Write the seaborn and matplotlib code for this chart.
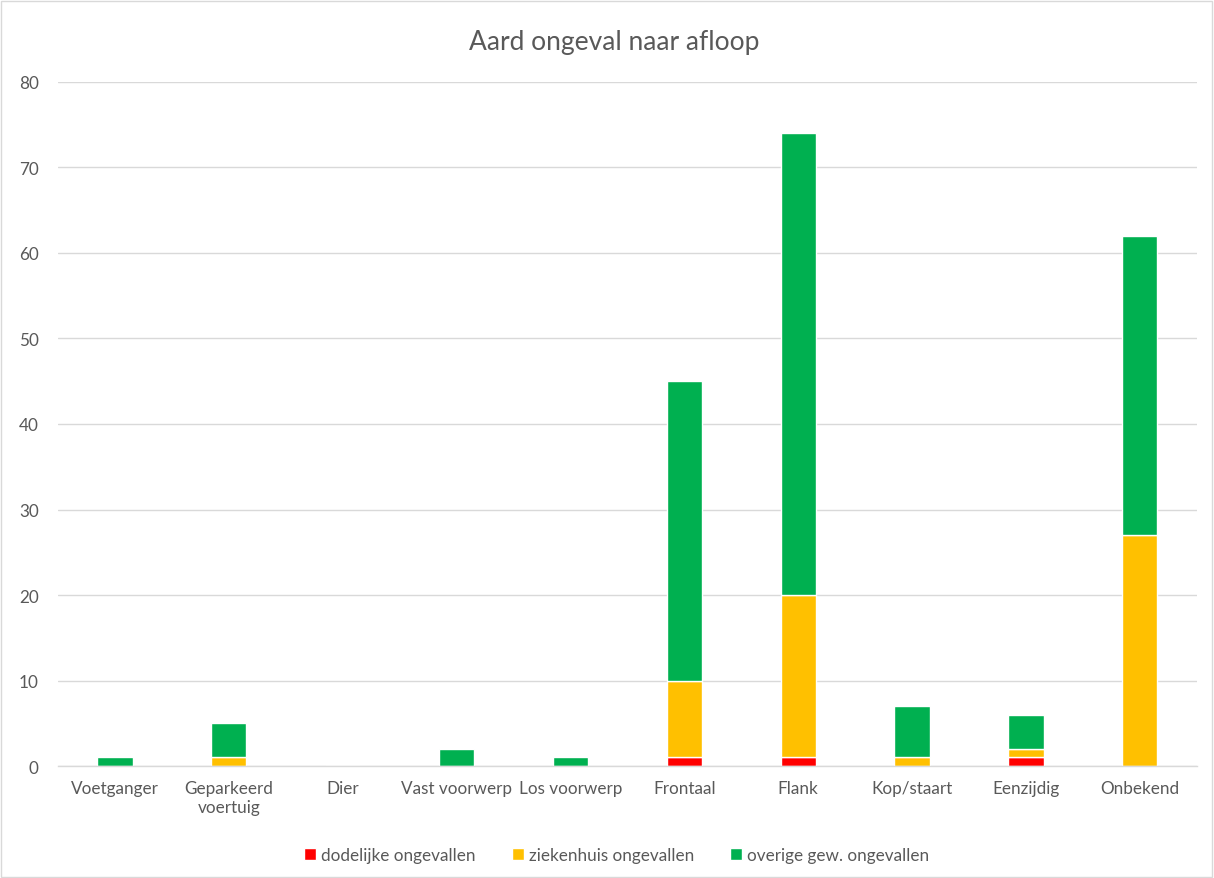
import matplotlib
matplotlib.use("Agg")
import matplotlib.pyplot as plt
import seaborn as sns
import numpy as np
import pandas as pd
from matplotlib.patches import Rectangle

categories = ["Voetganger", "Geparkeerd\nvoertuig", "Dier", "Vast voorwerp", "Los voorwerp",
              "Frontaal", "Flank", "Kop/staart", "Eenzijdig", "Onbekend"]
dodelijk = [0, 0, 0, 0, 0, 1, 1, 0, 1, 0]
ziekenhuis = [0, 1, 0, 0, 0, 9, 19, 1, 1, 27]
overige = [1, 4, 0, 2, 1, 35, 54, 6, 4, 35]

series_names = ["dodelijke ongevallen", "ziekenhuis ongevallen", "overige gew. ongevallen"]
series_values = [dodelijk, ziekenhuis, overige]
colors = ["#FF0000", "#FFC000", "#00B050"]

sns.set_theme(style="white")
plt.rcParams["font.family"] = ["Lato", "DejaVu Sans"]
text_color = "#595959"

fig = plt.figure(figsize=(12.14, 8.79), dpi=100)
ax = fig.add_axes([0.0478, 0.1274, 0.938, 0.7782])

# stacked bars: each series sits on top of the running total
bottom = np.zeros(len(categories))
for name, vals, col in zip(series_names, series_values, colors):
    df = pd.DataFrame({"cat": categories, "val": vals})
    sns.barplot(data=df, x="cat", y="val", bottom=bottom, color=col, width=0.31,
                edgecolor="white", linewidth=1.0, saturation=1, ax=ax, legend=False)
    bottom = bottom + np.array(vals)

ax.set_ylim(0, 80)
ax.set_xlim(-0.5, len(categories) - 0.5)
ax.set_yticks(range(0, 81, 10))
ax.yaxis.grid(True, color="#D9D9D9", linewidth=1)
ax.set_axisbelow(True)
for s in ["top", "right", "left"]:
    ax.spines[s].set_visible(False)
ax.spines["bottom"].set_color("#D9D9D9")
ax.spines["bottom"].set_linewidth(1)
ax.set_xlabel("")
ax.set_ylabel("")
ax.tick_params(axis="both", length=0, colors=text_color, labelsize=12.3)
ax.tick_params(axis="y", pad=14)
ax.tick_params(axis="x", pad=10)

fig.text(0.506, 0.952, "Aard ongeval naar afloop", fontsize=19, color=text_color,
         ha="center", va="center")

handles = [Rectangle((0, 0), 1, 1, facecolor=c) for c in colors]
fig.legend(handles, series_names, loc="lower center", ncol=3, frameon=False,
           bbox_to_anchor=(0.508, 0.0), fontsize=12.3, handlelength=0.7, handleheight=0.7,
           handletextpad=0.3, columnspacing=2.1, labelcolor=text_color)

fig.patches.append(Rectangle((0.001, 0.001), 0.997, 0.997, transform=fig.transFigure,
                             fill=False, edgecolor="#D9D9D9", linewidth=1))

fig.savefig("out.png", dpi=100)
